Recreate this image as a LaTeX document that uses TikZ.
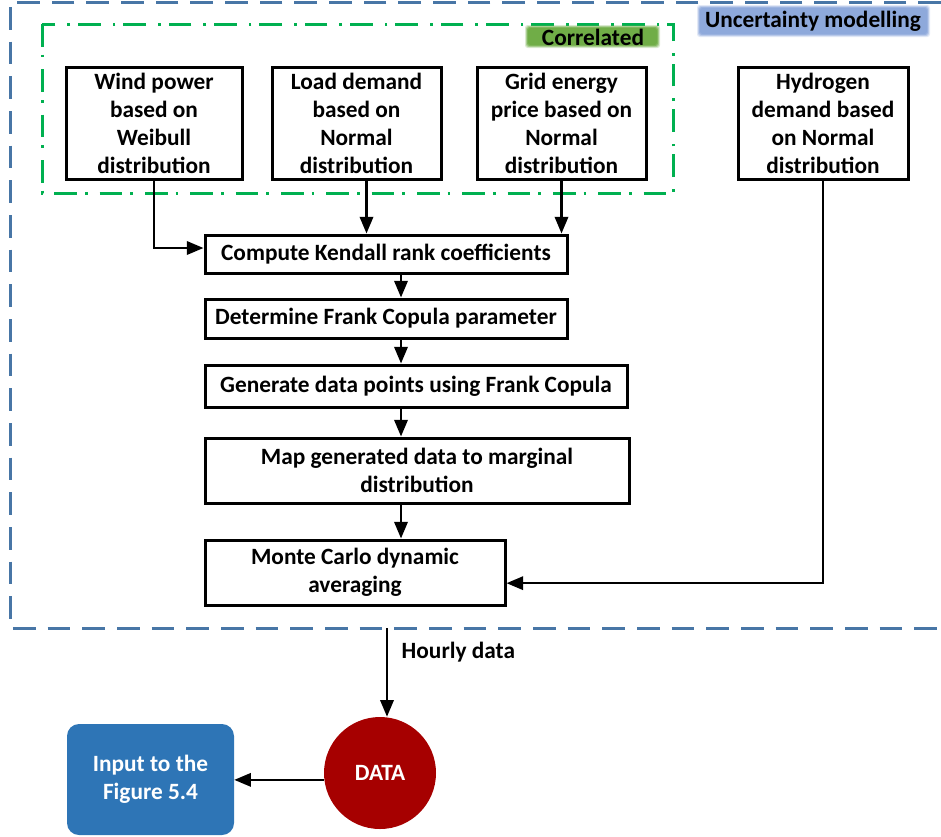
\documentclass[tikz,border=0pt]{standalone}
\usepackage{fontspec}
\setmainfont{Carlito}
\usetikzlibrary{arrows.meta}

\definecolor{unblue}{RGB}{72,118,166}
\definecolor{unhl}{RGB}{142,169,219}
\definecolor{corgreen}{RGB}{0,176,80}
\definecolor{corhl}{RGB}{112,173,71}
\definecolor{datared}{RGB}{166,0,0}
\definecolor{inblue}{RGB}{46,117,182}

\tikzset{
  box/.style={draw, line width=2.25pt, align=center, inner sep=0pt},
  arr/.style={line width=1.8pt, -{Triangle[length=12.5pt,width=10pt]}},
}

\begin{document}
\begin{tikzpicture}[x=0.75pt, y=-0.75pt, font=\fontsize{17.5}{21}\selectfont\bfseries]
\useasboundingbox (0,0) rectangle (941,836);

% uncertainty frame
\draw [line width=2.25pt, color=unblue, dash pattern=on 17pt off 9pt](941,2) -- (10,2) -- (10,628) -- (941,628);
\foreach \d/\o in {3/0.25,2/0.45,1/0.7,0/1}
  \fill [unhl, opacity=\o, rounded corners=2pt](700-\d,8-\d) rectangle (927+\d,34+\d);
\node (unc) at (813,21) {Uncertainty modelling};

% correlated group
\draw [line width=2.25pt, color=corgreen, dash pattern=on 17pt off 6pt on 2pt off 9pt](42,24) rectangle (673,193);
\foreach \d/\o in {3/0.25,2/0.45,1/0.7,0/1}
  \fill [corhl, opacity=\o, rounded corners=2pt](528-\d,28-\d) rectangle (657+\d,45+\d);
\node (corr) at (593,37) {Correlated};

\node [box, minimum width=132pt, minimum height=84pt] (wind) at (154,123) {Wind power\\based on\\Weibull\\distribution};
\node [box, minimum width=126.75pt, minimum height=84pt] (load) at (356.5,123) {Load demand\\based on\\Normal\\distribution};
\node [box, minimum width=126.75pt, minimum height=84pt] (grid) at (561.5,123) {Grid energy\\price based on\\Normal\\distribution};
\node [box, minimum width=127.5pt, minimum height=84pt] (hyd) at (823,123) {Hydrogen\\demand based\\on Normal\\distribution};

\node [box, minimum width=271.5pt, minimum height=28.5pt] (ken) at (386,254) {Compute Kendall rank coefficients};
\node [box, minimum width=271.5pt, minimum height=29.25pt] (det) at (386,318.5) {Determine Frank Copula parameter};
\node [box, minimum width=316.5pt, minimum height=31.5pt] (gen) at (416,386) {Generate data points using Frank Copula};
\node [box, minimum width=318pt, minimum height=48.75pt] (map) at (417,470.5) {Map generated data to marginal\\distribution};
\node [box, minimum width=225pt, minimum height=48.75pt] (monte) at (355,572.5) {Monte Carlo dynamic\\averaging};

\coordinate (la) at ([xshift=7.5pt]load.south);
\coordinate (ax) at (401,0);
\coordinate (hb) at (387,628);

\draw [arr](wind.south) |- ([yshift=4.5pt]ken.west);
\draw [arr](la) -- (la |- ken.north);
\draw [arr](grid.south) -- (grid.south |- ken.north);
\draw [arr](ken.south -| ax) -- (det.north -| ax);
\draw [arr](det.south -| ax) -- (gen.north -| ax);
\draw [arr](gen.south -| ax) -- (map.north -| ax);
\draw [arr](map.south -| ax) -- (monte.north -| ax);
\draw [arr](hyd.south) |- ([yshift=-8pt]monte.east);

% output
\node [circle, fill=datared, minimum size=84pt, inner sep=0pt, text=white] (data) at (380,773) {DATA};
\node [fill=inblue, rounded corners=9pt, minimum width=125.25pt, minimum height=83.25pt, text=white, align=center] (inp) at (150.5,779.5) {Input to the\\Figure 5.4};
\node [anchor=west] (hourly) at (397,652) {Hourly data};

\draw [arr](hb) -- (hb |- data.north);
\draw [arr](data.187) -- (data.187 -| inp.east);
\end{tikzpicture}
\end{document}
